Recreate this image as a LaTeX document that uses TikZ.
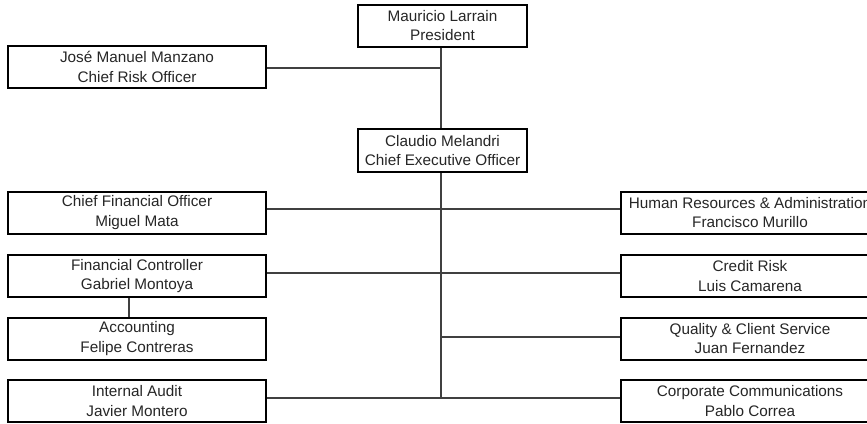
\documentclass[tikz,border=0pt]{standalone}
\usepackage{fontspec}
\setmainfont{Liberation Sans}
\begin{document}
\begin{tikzpicture}[x=1pt,y=-1pt,
  orgbox/.style={draw=black, line width=2pt, fill=white, align=center, inner sep=0pt,
    minimum height=42pt, font=\fontsize{15.3}{19.5}\selectfont, text=black!85},
  sidebox/.style={orgbox, minimum width=258pt},
  topbox/.style={orgbox, minimum width=169pt},
  link/.style={draw=black!75, line width=1.3pt}]
\clip (0,0) rectangle (867,423);
\fill[white] (0,0) rectangle (867,423);
% spine coordinates
\coordinate (s1) at (441,68);
\coordinate (s2) at (441,209);
\coordinate (s3) at (441,273);
\coordinate (s4) at (441,337);
\coordinate (s5) at (441,398);
% nodes
\node[topbox] (pres) at (442.5,25.5) {Mauricio Larrain\\President};
\node[sidebox] (cro) at (137,67) {José Manuel Manzano\\Chief Risk Officer};
\node[topbox, minimum height=43pt] (ceo) at (442.5,150.5) {Claudio Melandri\\Chief Executive Officer};
\node[sidebox] (cfo) at (137,212.5) {Chief Financial Officer\\Miguel Mata};
\node[sidebox] (fc) at (137,276) {Financial Controller\\Gabriel Montoya};
\node[sidebox] (acc) at (137,338.5) {Accounting\\Felipe Contreras};
\node[sidebox] (ia) at (137,401) {Internal Audit\\Javier Montero};
\node[sidebox] (hr) at (750,212.5) {Human Resources \& Administration\\Francisco Murillo};
\node[sidebox] (cr) at (750,276) {Credit Risk\\Luis Camarena};
\node[sidebox] (qc) at (750,338.5) {Quality \& Client Service\\Juan Fernandez};
\node[sidebox] (cc) at (750,401) {Corporate Communications\\Pablo Correa};
% links
\path[link] (pres.south -| s1) -- (ceo.north -| s1);
\path[link] (ceo.south -| s1) -- (s5);
\path[link] (cro.east |- s1) -- (s1);
\path[link] (cfo.east |- s2) -- (hr.west |- s2);
\path[link] (fc.east |- s3) -- (cr.west |- s3);
\path[link] (s4) -- (qc.west |- s4);
\path[link] (ia.east |- s5) -- (cc.west |- s5);
\path[link] (fc.south -| 129,0) -- (acc.north -| 129,0);
\end{tikzpicture}
\end{document}
